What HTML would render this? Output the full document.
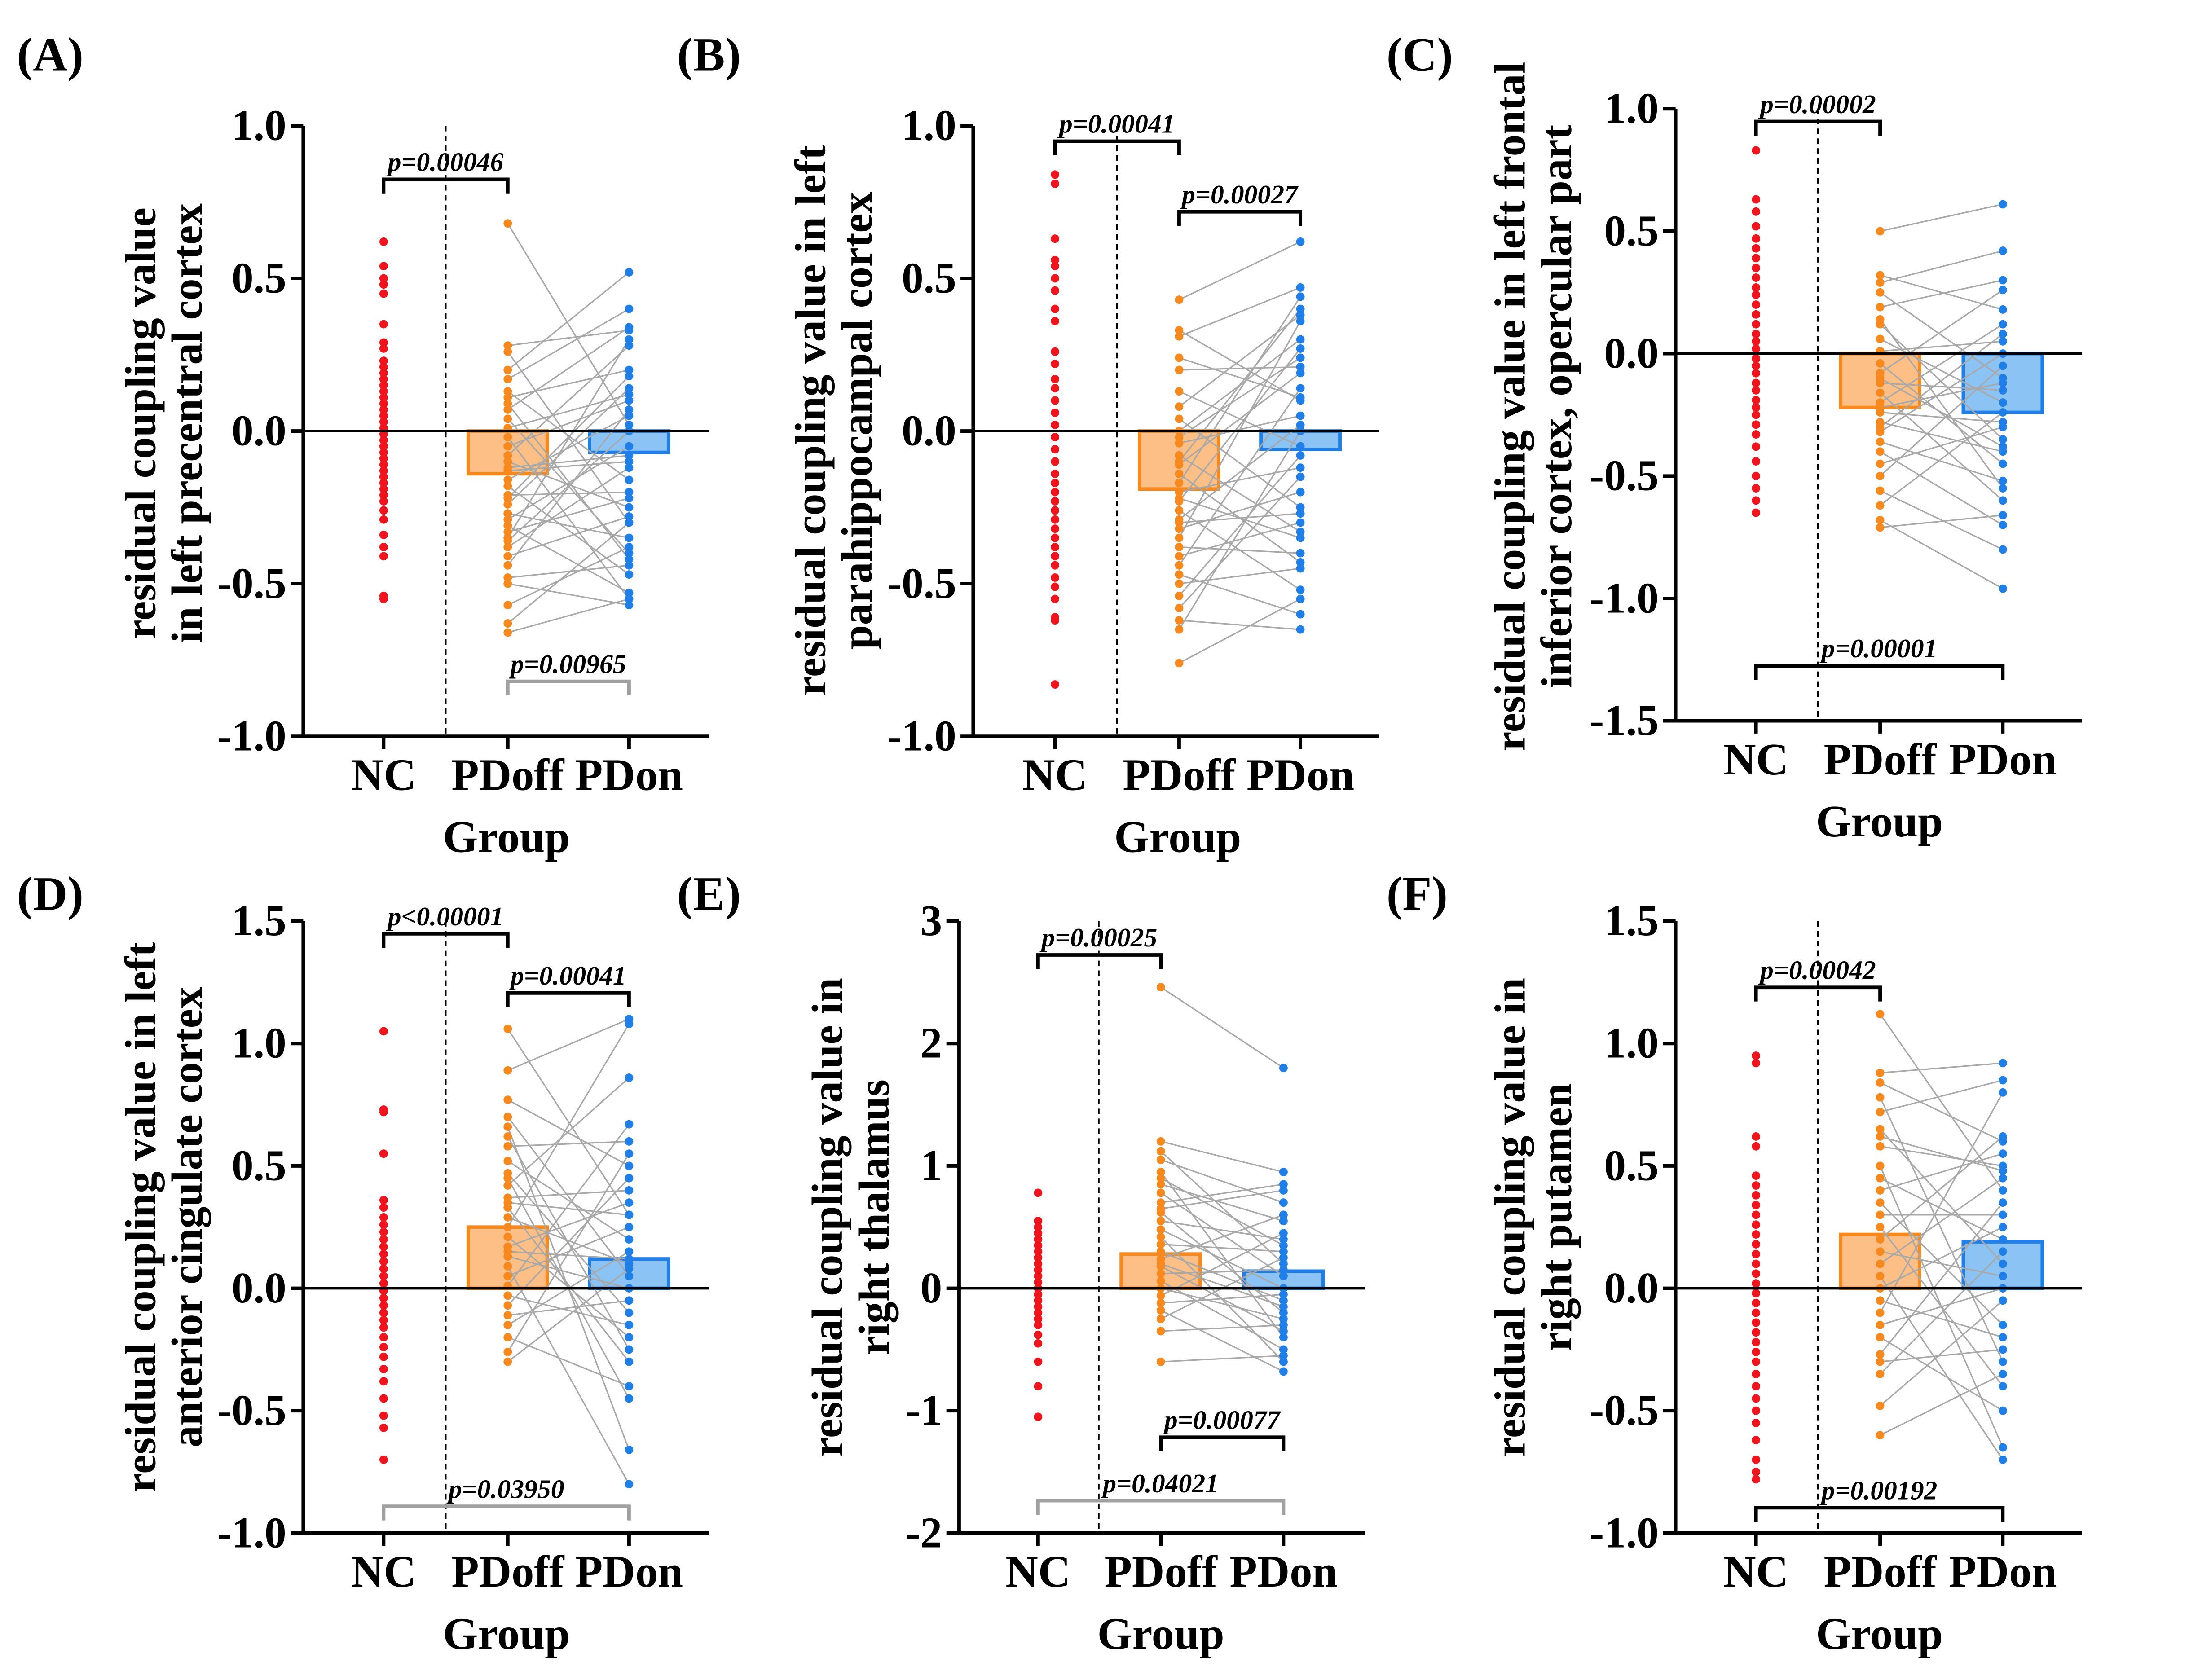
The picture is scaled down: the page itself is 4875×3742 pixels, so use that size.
<!DOCTYPE html>
<html><head><meta charset="utf-8"><style>
html,body{margin:0;padding:0;background:#fff;}
svg{display:block;}
text{font-family:"Liberation Serif","Times New Roman",serif;font-weight:bold;fill:#000;}
</style></head><body>
<svg id="fig" xmlns="http://www.w3.org/2000/svg" width="4875" height="3742" viewBox="0 0 1552 1191"></svg>
<script>
// ---- data ----
const categories=["NC","PDoff","PDon"];
const A_nc=[0.62,0.54,0.5,0.48,0.45,0.35,0.29,0.27,0.23,0.21,0.19,0.17,0.15,0.13,0.11,0.09,0.07,0.05,0.03,0.01,-0.01,-0.03,-0.05,-0.07,-0.09,-0.11,-0.13,-0.15,-0.17,-0.19,-0.21,-0.23,-0.26,-0.29,-0.34,-0.38,-0.41,-0.54,-0.55];
const A_off=[0.68,0.28,0.26,0.2,0.17,0.13,0.11,0.07,0.04,0.01,-0.02,-0.05,-0.08,-0.1,-0.13,-0.16,-0.18,-0.21,-0.24,-0.27,-0.29,-0.31,-0.33,-0.35,-0.38,-0.41,-0.44,-0.48,-0.5,-0.57,-0.63,-0.66,-0.12,-0.22,0.09,-0.36];
const A_on=[0.02,0.33,-0.3,0.52,0.4,-0.16,0.2,0.34,-0.4,0.12,-0.55,0.1,0.28,-0.25,-0.1,0.05,-0.47,-0.2,0.14,-0.35,-0.05,-0.53,-0.22,0.3,-0.12,-0.28,0.07,-0.44,-0.57,-0.38,-0.3,-0.55,-0.08,0.18,-0.42,0.0];
const A_bars=[-0.14,-0.07];
const B_nc=[0.84,0.81,0.63,0.56,0.54,0.5,0.46,0.4,0.36,0.26,0.22,0.17,0.14,0.1,0.06,0.02,-0.02,-0.06,-0.1,-0.14,-0.17,-0.2,-0.23,-0.26,-0.29,-0.32,-0.35,-0.38,-0.41,-0.44,-0.48,-0.51,-0.55,-0.61,-0.62,-0.83];
const B_off=[0.43,0.33,0.31,0.2,0.13,0.08,0.04,0.0,-0.04,-0.08,-0.11,-0.14,-0.17,-0.2,-0.23,-0.26,-0.29,-0.32,-0.35,-0.38,-0.41,-0.44,-0.47,-0.5,-0.54,-0.58,-0.62,-0.65,-0.76,-0.1,-0.22,0.24,-0.3,-0.02];
const B_on=[0.62,0.1,0.47,0.21,-0.05,0.38,-0.25,0.3,0.05,-0.33,0.19,-0.43,0.44,-0.12,0.27,-0.52,0.02,-0.2,0.36,-0.4,-0.3,0.14,-0.6,-0.45,-0.08,-0.15,-0.65,0.0,-0.55,0.4,-0.35,0.11,-0.27,0.24];
const B_bars=[-0.19,-0.06];
const C_nc=[0.83,0.63,0.58,0.52,0.47,0.43,0.39,0.35,0.31,0.27,0.24,0.2,0.16,0.12,0.08,0.05,0.02,-0.02,-0.05,-0.08,-0.12,-0.15,-0.19,-0.22,-0.25,-0.29,-0.33,-0.38,-0.44,-0.5,-0.55,-0.6,-0.65];
const C_off=[0.5,0.32,0.29,0.25,0.19,0.12,0.06,0.01,-0.04,-0.08,-0.12,-0.16,-0.2,-0.24,-0.28,-0.32,-0.36,-0.4,-0.45,-0.5,-0.56,-0.62,-0.68,-0.71,-0.1,-0.3,0.14,-0.22];
const C_on=[0.61,0.18,0.42,-0.1,0.3,-0.35,-0.2,0.05,-0.45,0.26,-0.15,-0.6,0.12,-0.28,-0.4,0.0,-0.52,-0.7,-0.3,-0.05,-0.8,-0.24,-0.96,-0.66,-0.38,0.08,-0.55,-0.12];
const C_bars=[-0.22,-0.24];
const D_nc=[1.05,0.73,0.72,0.55,0.36,0.33,0.29,0.26,0.23,0.2,0.17,0.14,0.11,0.08,0.05,0.02,-0.01,-0.04,-0.07,-0.1,-0.13,-0.16,-0.2,-0.24,-0.28,-0.33,-0.38,-0.45,-0.52,-0.57,-0.7];
const D_off=[1.06,0.89,0.77,0.7,0.66,0.58,0.52,0.47,0.42,0.37,0.33,0.29,0.25,0.21,0.17,0.13,0.09,0.05,0.01,-0.03,-0.07,-0.11,-0.15,-0.2,-0.26,-0.3,0.62,0.45,0.35,0.15];
const D_on=[0.3,1.1,0.5,0.05,-0.66,0.6,0.2,-0.1,0.86,0.4,-0.3,0.1,1.08,-0.2,0.35,0.0,-0.8,0.25,0.67,-0.15,0.45,-0.05,0.15,-0.4,0.55,0.08,-0.25,-0.45,0.3,0.12];
const D_bars=[0.25,0.12];
const E_nc=[0.78,0.55,0.5,0.45,0.4,0.35,0.3,0.25,0.2,0.15,0.1,0.05,0.0,-0.05,-0.1,-0.15,-0.2,-0.25,-0.3,-0.38,-0.45,-0.6,-0.8,-1.05];
const E_off=[2.46,1.2,1.12,1.05,0.95,0.85,0.78,0.7,0.62,0.55,0.48,0.42,0.36,0.3,0.24,0.18,0.12,0.06,0.0,-0.06,-0.12,-0.18,-0.25,-0.35,-0.6,0.9,0.65,0.2];
const E_on=[1.8,0.95,0.2,0.7,-0.4,0.55,0.1,0.85,-0.2,0.4,0.0,-0.6,0.3,-0.1,0.6,-0.35,0.15,-0.5,-0.25,0.45,-0.05,-0.68,0.25,-0.3,-0.55,0.35,0.8,-0.15];
const E_bars=[0.28,0.14];
const F_nc=[0.95,0.92,0.62,0.58,0.46,0.42,0.38,0.34,0.3,0.26,0.22,0.18,0.14,0.1,0.06,0.02,-0.02,-0.06,-0.1,-0.14,-0.18,-0.22,-0.26,-0.3,-0.35,-0.4,-0.45,-0.5,-0.55,-0.62,-0.7,-0.75,-0.78];
const F_off=[1.12,0.88,0.84,0.78,0.72,0.65,0.58,0.5,0.45,0.4,0.35,0.3,0.25,0.2,0.15,0.1,0.05,0.0,-0.05,-0.1,-0.15,-0.2,-0.27,-0.35,-0.48,-0.6,0.62,-0.3];
const F_on=[0.4,0.92,0.6,-0.3,0.85,0.1,0.5,-0.65,0.2,0.55,-0.15,0.3,-0.4,0.62,0.05,0.45,-0.7,0.25,-0.2,0.8,0.0,-0.5,0.35,0.15,-0.05,-0.35,0.48,-0.25];
const F_bars=[0.22,0.19];

const NS="http://www.w3.org/2000/svg";
const svg=document.getElementById('fig');
function mk(tag,attrs,parent,txt){const e=document.createElementNS(NS,tag);for(const k in attrs)e.setAttribute(k,attrs[k]);if(txt!==undefined)e.textContent=txt;(parent||svg).appendChild(e);return e;}

const panels=[
 {id:"a",label:"(A)",lx:12,ly:50,ax:215,top:89,bot:522,ymax:1,ymin:-1,step:0.5,dec:1,cx:[272,360,446],dash:316,nc:A_nc,off:A_off,on:A_on,bars:A_bars,
  t1:"residual coupling value",t2:"in left precentral cortex",tx:[99,132],tcy:300,
  br:[{a:0,b:1,y:127,t:"p=0.00046",g:false},{a:1,b:2,y:483,t:"p=0.00965",g:true}]},
 {id:"b",label:"(B)",lx:480,ly:50,ax:690,top:89,bot:522,ymax:1,ymin:-1,step:0.5,dec:1,cx:[748,836,922],dash:792,nc:B_nc,off:B_off,on:B_on,bars:B_bars,
  t1:"residual coupling value in left",t2:"parahippocampal cortex",tx:[574,607],tcy:298,
  br:[{a:0,b:1,y:100,t:"p=0.00041",g:false},{a:1,b:2,y:150,t:"p=0.00027",g:false}]},
 {id:"c",label:"(C)",lx:983,ly:50,ax:1188,top:77,bot:511,ymax:1,ymin:-1.5,step:0.5,dec:1,cx:[1245,1333,1420],dash:1289,nc:C_nc,off:C_off,on:C_on,bars:C_bars,
  t1:"residual coupling value in left frontal",t2:"inferior cortex, opercular part",tx:[1070,1103],tcy:288,
  br:[{a:0,b:1,y:86,t:"p=0.00002",g:false},{a:0,b:2,y:472,t:"p=0.00001",g:false}]},
 {id:"d",label:"(D)",lx:12,ly:645,ax:215,top:653,bot:1087,ymax:1.5,ymin:-1,step:0.5,dec:1,cx:[272,360,446],dash:316,nc:D_nc,off:D_off,on:D_on,bars:D_bars,
  t1:"residual coupling value in left",t2:"anterior cingulate cortex",tx:[99,132],tcy:863,
  br:[{a:0,b:1,y:662,t:"p<0.00001",g:false},{a:1,b:2,y:704,t:"p=0.00041",g:false},{a:0,b:2,y:1068,t:"p=0.03950",g:true}]},
 {id:"e",label:"(E)",lx:480,ly:645,ax:680,top:653,bot:1087,ymax:3,ymin:-2,step:1,dec:0,cx:[736,823,910],dash:779,nc:E_nc,off:E_off,on:E_on,bars:E_bars,
  t1:"residual coupling value in",t2:"right thalamus",tx:[586,619],tcy:863,
  br:[{a:0,b:1,y:677,t:"p=0.00025",g:false},{a:1,b:2,y:1019,t:"p=0.00077",g:false},{a:0,b:2,y:1064,t:"p=0.04021",g:true}]},
 {id:"f",label:"(F)",lx:983,ly:645,ax:1188,top:653,bot:1087,ymax:1.5,ymin:-1,step:0.5,dec:1,cx:[1245,1333,1420],dash:1289,nc:F_nc,off:F_off,on:F_on,bars:F_bars,
  t1:"residual coupling value in",t2:"right putamen",tx:[1070,1103],tcy:863,
  br:[{a:0,b:1,y:700,t:"p=0.00042",g:false},{a:0,b:2,y:1069,t:"p=0.00192",g:false}]}
];

panels.forEach(p=>{
 const g=mk('g',{});
 
 
 const Y=v=>p.bot-(v-p.ymin)/(p.ymax-p.ymin)*(p.bot-p.top);
 const right=p.ax+288;
 const lab=mk('text',{x:p.lx,y:p.ly,'font-size':34},g,p.label);
 
 
 mk('line',{x1:p.dash,y1:p.top,x2:p.dash,y2:p.bot,stroke:'#000','stroke-width':1.2,'stroke-dasharray':'4,3'},g);
 const barCols=[['#fdbf85','#f7891f'],['#8cc3f5','#1f7fe6']];
 p.bars.forEach((v,i)=>{
  const x=p.cx[i+1]-28,y0=Y(0),y1=Y(v);
  const r=mk('rect',{x:x,y:Math.min(y0,y1),width:56,height:Math.abs(y1-y0),fill:barCols[i][0],stroke:barCols[i][1],'stroke-width':2.5},g);
  
  
 });
 const n=Math.min(p.off.length,p.on.length);
 for(let i=0;i<n;i++){
  mk('line',{x1:p.cx[1],y1:Y(p.off[i]),x2:p.cx[2],y2:Y(p.on[i]),stroke:'#a8a8a8','stroke-width':1},g);
 }
 const sets=[[p.nc,'#f0141c'],[p.off,'#f7891f'],[p.on,'#1f7fe6']];
 sets.forEach((s,k)=>{
  s[0].forEach(v=>{
   const c=mk('circle',{cx:p.cx[k],cy:Y(v),r:3,fill:s[1]},g);
   
   
  });
 });
 mk('line',{x1:p.ax,y1:Y(0),x2:right,y2:Y(0),stroke:'#000','stroke-width':1.8},g);
 mk('line',{x1:p.ax,y1:p.top,x2:p.ax,y2:p.bot+1,stroke:'#000','stroke-width':2.5},g);
 mk('line',{x1:p.ax,y1:p.bot,x2:right,y2:p.bot,stroke:'#000','stroke-width':2.5},g);
 for(let v=p.ymin;v<=p.ymax+1e-9;v+=p.step){
  const y=Y(v);
  mk('line',{x1:p.ax-9,y1:y,x2:p.ax,y2:y,stroke:'#000','stroke-width':2.5},g);
  const t=mk('text',{x:p.ax-12,y:y+10,'font-size':31,'text-anchor':'end'},g,v.toFixed(p.dec));
  
  
 }
 p.cx.forEach((x,k)=>{
  mk('line',{x1:x,y1:p.bot,x2:x,y2:p.bot+9,stroke:'#000','stroke-width':2.5},g);
  const t=mk('text',{x:x,y:p.bot+38,'font-size':32,'text-anchor':'middle'},g,categories[k]);
  
  
 });
 const xt=mk('text',{x:(p.cx[0]+p.cx[2])/2,y:p.bot+82,'font-size':32,'text-anchor':'middle'},g,"Group");
 
 
 [p.t1,p.t2].forEach((s,k)=>{
  const t=mk('text',{x:0,y:0,'font-size':31,'text-anchor':'middle',transform:`translate(${p.tx[k]+11},${p.tcy}) rotate(-90)`},g,s);
  
  
 });
 p.br.forEach(b=>{
  const col=b.g?'#a0a0a0':'#000';
  const x1=p.cx[b.a],x2=p.cx[b.b];
  mk('path',{d:`M${x1},${b.y+10}V${b.y}H${x2}V${b.y+10}`,fill:'none',stroke:col,'stroke-width':2.5},g);
  const t=mk('text',{x:(x1+x2)/2,y:b.y-6,'font-size':19,'font-style':'italic','text-anchor':'middle',fill:col},g,b.t);
  
  
 });
});
</script>
</body></html>
